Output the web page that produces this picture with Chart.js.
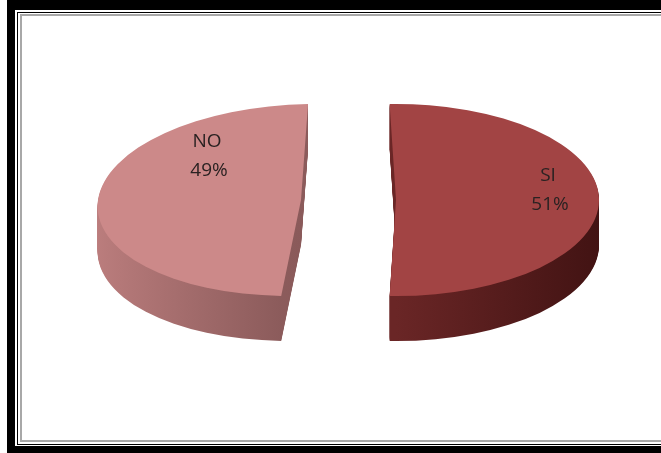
<!DOCTYPE html>
<html>
<head>
<meta charset="utf-8">
<script src="https://cdn.jsdelivr.net/npm/chart.js@4"></script>
<style>
html, body { margin: 0; padding: 0; background: #fff; overflow: hidden; }
#wrap { position: relative; width: 661px; height: 453px; overflow: hidden; }
.frame { position: absolute; box-sizing: border-box; right: -20px; }
#f1 { left: 7px; top: 0; height: 453px; border-top: 10px solid #000; border-left: 8px solid #000; border-bottom: 7px solid #000; }
#f2 { left: 17px; top: 12px; height: 433px; border-top: 1px solid #000; border-left: 1px solid #000; border-bottom: 1px solid #000; }
#f3 { left: 20px; top: 14px; height: 428px; border-top: 2px solid #a8a8a8; border-left: 2px solid #a8a8a8; border-bottom: 2px solid #a8a8a8; }
#pieChart { position: absolute; left: 0; top: 0; }
</style>
</head>
<body>
<div id="wrap">
  <div class="frame" id="f1"></div>
  <div class="frame" id="f2"></div>
  <div class="frame" id="f3"></div>
  <canvas id="pieChart" width="661" height="453"></canvas>
</div>
<script>
// data
const labels = ['SI', 'NO'];
const values = [51, 49];

// look
const topColors = ['#a24444', '#cc8989'];
const sideColors = [['#6a2626', '#421313'], ['#bb7d7d', '#8a5a5a']];
const labelOffsets = [[152, -10], [-98, -44]]; // from slice centre, px
const skews = [[0, 0], [-0.14, -4]];           // fake perspective per slice
const explode = [49, 42];
const TILT = 0.473;
const DEPTH = 45;

const pie3d = {
  id: 'pie3d',
  beforeDatasetsDraw(chart) {
    const ctx = chart.ctx;
    const arcs = chart.getDatasetMeta(0).data;
    const cx = arcs[0].x, cy = arcs[0].y;

    const place = (arc, i, dy) => {
      const mid = (arc.startAngle + arc.endAngle) / 2;
      const [k, b] = skews[i];
      ctx.translate(0, dy);
      ctx.transform(1, 0, k, 1, b - k * cy, 0);
      ctx.translate(cx, cy);
      ctx.scale(1, TILT);
      ctx.translate(-cx, -cy);
      ctx.translate(Math.cos(mid) * explode[i], Math.sin(mid) * explode[i]);
    };

    const paint = (arc, fill) => {
      const orig = arc.options;
      arc.options = Object.assign({}, orig, { backgroundColor: fill, borderWidth: 0 });
      arc.draw(ctx);
      arc.options = orig;
    };

    // walls
    arcs.forEach((arc, i) => {
      const R = arc.outerRadius;
      const right = Math.cos((arc.startAngle + arc.endAngle) / 2) > 0;
      for (let dy = DEPTH; dy >= 1; dy--) {
        ctx.save();
        place(arc, i, dy);
        const g = right
          ? ctx.createLinearGradient(cx, 0, cx + R, 0)
          : ctx.createLinearGradient(cx - R, 0, cx, 0);
        g.addColorStop(0, sideColors[i][0]);
        g.addColorStop(1, sideColors[i][1]);
        paint(arc, g);
        ctx.restore();
      }
    });

    // tops
    arcs.forEach((arc, i) => {
      ctx.save();
      place(arc, i, 0);
      paint(arc, topColors[i]);
      ctx.restore();
    });

    // labels
    const total = values.reduce((a, b) => a + b, 0);
    ctx.save();
    ctx.fillStyle = '#2a2222';
    ctx.font = '19px "Open Sans", sans-serif';
    ctx.textAlign = 'center';
    ctx.textBaseline = 'middle';
    arcs.forEach((arc, i) => {
      const mid = (arc.startAngle + arc.endAngle) / 2;
      const sx = cx + Math.cos(mid) * explode[i] + labelOffsets[i][0];
      const sy = cy + Math.sin(mid) * explode[i] * TILT + labelOffsets[i][1];
      ctx.fillText(labels[i], sx, sy - 14);
      ctx.fillText(Math.round(values[i] / total * 100) + '%', sx + 2, sy + 15);
    });
    ctx.restore();
    return false;
  }
};

new Chart(document.getElementById('pieChart'), {
  type: 'pie',
  data: {
    labels: labels,
    datasets: [{
      data: values,
      backgroundColor: topColors,
      borderWidth: 0
    }]
  },
  options: {
    responsive: false,
    animation: false,
    radius: 203,
    rotation: -1.8,
    layout: { padding: { left: 33, right: 0, top: 0, bottom: 53 } },
    plugins: {
      legend: { display: false },
      tooltip: { enabled: false }
    }
  },
  plugins: [pie3d]
});
</script>
</body>
</html>
